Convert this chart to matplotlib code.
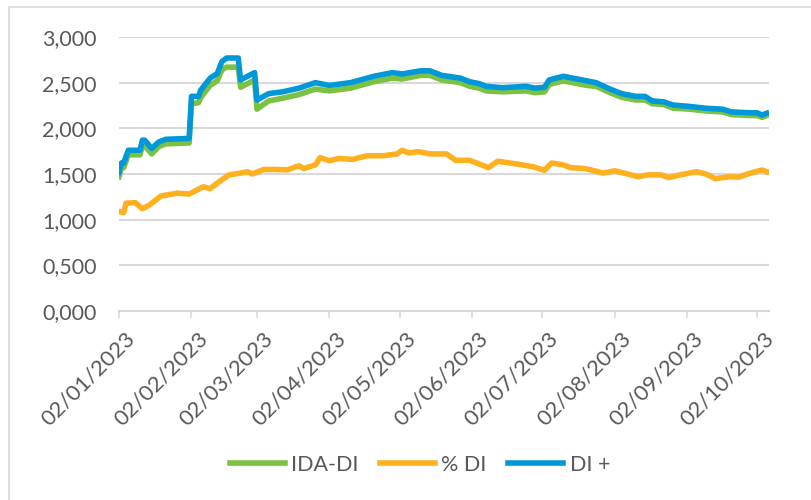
import numpy as np
import pandas as pd
import matplotlib
matplotlib.use('Agg')
import matplotlib.pyplot as plt
import matplotlib.dates as mdates
import matplotlib.transforms as mtransforms
from matplotlib.patches import Rectangle

plt.rcParams['font.family'] = ['Lato', 'DejaVu Sans']

# DI + (blue) and IDA-DI (green)
dates_di = ['2023-01-02', '2023-01-03', '2023-01-04', '2023-01-06', '2023-01-11',
            '2023-01-12', '2023-01-13', '2023-01-16', '2023-01-19', '2023-01-22',
            '2023-02-01', '2023-02-02', '2023-02-05', '2023-02-06', '2023-02-10',
            '2023-02-13', '2023-02-15', '2023-02-17', '2023-02-22', '2023-02-23',
            '2023-03-01', '2023-03-02', '2023-03-07', '2023-03-13', '2023-03-20',
            '2023-03-27', '2023-04-02', '2023-04-11', '2023-04-21', '2023-04-29',
            '2023-05-03', '2023-05-11', '2023-05-15', '2023-05-20', '2023-05-28',
            '2023-06-01', '2023-06-05', '2023-06-08', '2023-06-15', '2023-06-25',
            '2023-06-29', '2023-07-03', '2023-07-05', '2023-07-11', '2023-07-15',
            '2023-07-21', '2023-07-25', '2023-07-31', '2023-08-05', '2023-08-11',
            '2023-08-15', '2023-08-18', '2023-08-23', '2023-08-27', '2023-09-03',
            '2023-09-10', '2023-09-17', '2023-09-21', '2023-09-29', '2023-10-02',
            '2023-10-04', '2023-10-06']
di_plus = [1.52, 1.62, 1.62, 1.76, 1.76, 1.87, 1.87, 1.78, 1.85, 1.88,
           1.89, 2.35, 2.35, 2.42, 2.55, 2.60, 2.73, 2.77, 2.77, 2.53,
           2.61, 2.31, 2.38, 2.40, 2.44, 2.50, 2.47, 2.50, 2.57, 2.61,
           2.595, 2.63, 2.63, 2.58, 2.55, 2.51, 2.49, 2.46, 2.445, 2.46,
           2.44, 2.45, 2.53, 2.57, 2.55, 2.52, 2.50, 2.43, 2.38, 2.35,
           2.35, 2.30, 2.29, 2.255, 2.24, 2.22, 2.21, 2.18, 2.17, 2.17,
           2.145, 2.165]
ida_di = [1.47, 1.57, 1.57, 1.71, 1.71, 1.81, 1.81, 1.72, 1.80, 1.83,
          1.84, 2.27, 2.28, 2.34, 2.47, 2.52, 2.64, 2.67, 2.67, 2.45,
          2.53, 2.21, 2.30, 2.33, 2.37, 2.43, 2.41, 2.44, 2.51, 2.55,
          2.54, 2.58, 2.58, 2.53, 2.50, 2.46, 2.44, 2.41, 2.40, 2.41,
          2.39, 2.40, 2.48, 2.52, 2.50, 2.47, 2.46, 2.39, 2.34, 2.31,
          2.31, 2.27, 2.26, 2.22, 2.21, 2.19, 2.18, 2.15, 2.14, 2.14,
          2.12, 2.14]

# % DI (orange)
dates_pct = ['2023-01-02', '2023-01-04', '2023-01-05', '2023-01-09', '2023-01-12',
             '2023-01-15', '2023-01-20', '2023-01-27', '2023-02-01', '2023-02-07',
             '2023-02-10', '2023-02-13', '2023-02-18', '2023-02-23', '2023-02-26',
             '2023-02-28', '2023-03-05', '2023-03-10', '2023-03-15', '2023-03-20',
             '2023-03-22', '2023-03-27', '2023-03-29', '2023-04-02', '2023-04-06',
             '2023-04-12', '2023-04-18', '2023-04-25', '2023-05-01', '2023-05-03',
             '2023-05-06', '2023-05-10', '2023-05-15', '2023-05-22', '2023-05-26',
             '2023-06-01', '2023-06-05', '2023-06-09', '2023-06-13', '2023-06-21',
             '2023-06-28', '2023-07-03', '2023-07-06', '2023-07-11', '2023-07-14',
             '2023-07-20', '2023-07-23', '2023-07-28', '2023-08-02', '2023-08-06',
             '2023-08-12', '2023-08-16', '2023-08-22', '2023-08-25', '2023-08-30',
             '2023-09-06', '2023-09-10', '2023-09-14', '2023-09-20', '2023-09-24',
             '2023-09-29', '2023-10-04', '2023-10-06']
pct_di = [1.09, 1.076, 1.18, 1.186, 1.12, 1.16, 1.26, 1.29, 1.28, 1.36,
          1.34, 1.40, 1.49, 1.51, 1.525, 1.50, 1.55, 1.55, 1.545, 1.59,
          1.56, 1.60, 1.68, 1.645, 1.67, 1.66, 1.70, 1.70, 1.72, 1.76,
          1.73, 1.745, 1.72, 1.72, 1.65, 1.65, 1.61, 1.57, 1.64, 1.61,
          1.58, 1.54, 1.62, 1.60, 1.57, 1.56, 1.544, 1.51, 1.535, 1.51,
          1.47, 1.49, 1.49, 1.46, 1.49, 1.525, 1.50, 1.45, 1.47, 1.465,
          1.51, 1.544, 1.525]

tick_dates = ['2023-01-02', '2023-02-02', '2023-03-02', '2023-04-02', '2023-05-02',
              '2023-06-02', '2023-07-02', '2023-08-02', '2023-09-02', '2023-10-02']
y_ticks = [0, 0.5, 1.0, 1.5, 2.0, 2.5, 3.0]

green = '#7cc242'
orange = '#ffb01f'
blue = '#0098d8'
txt = '#595959'
grid = '#d9d9d9'

fig = plt.figure(figsize=(8.12, 5.0), dpi=100)
ax = fig.add_axes([119 / 812, 1 - 311 / 500, 650 / 812, 274 / 500])

d_di = pd.to_datetime(dates_di)
d_pct = pd.to_datetime(dates_pct)
lw = 4.0
ax.plot(d_di, ida_di, color=green, lw=lw, label='IDA-DI', solid_joinstyle='round')
ax.plot(d_pct, pct_di, color=orange, lw=lw, label='% DI', solid_joinstyle='round')
ax.plot(d_di, di_plus, color=blue, lw=lw, label='DI +', solid_joinstyle='round')

ax.set_ylim(0, 3)
ax.set_xlim(pd.Timestamp('2023-01-02'), pd.Timestamp('2023-10-07'))
ax.set_yticks(y_ticks)
ax.set_yticklabels([f'{v:.3f}'.replace('.', ',') for v in y_ticks])
ax.yaxis.grid(True, color=grid, lw=1.5)
ax.set_axisbelow(True)
ax.tick_params(axis='y', length=0, pad=16, labelsize=15.5, labelcolor=txt)

ax.set_xticks(pd.to_datetime(tick_dates))
ax.xaxis.set_major_formatter(mdates.DateFormatter('%d/%m/%Y'))
ax.tick_params(axis='x', direction='out', length=5, width=1.2, color=grid,
               labelsize=16, labelcolor=txt, pad=4)
shift = mtransforms.ScaledTranslation(6 / 100, -5 / 100, fig.dpi_scale_trans)
for lab in ax.get_xticklabels():
    lab.set_rotation(45)
    lab.set_ha('right')
    lab.set_va('top')
    lab.set_rotation_mode('anchor')
    lab.set_transform(lab.get_transform() + shift)

for s in ['top', 'right', 'left']:
    ax.spines[s].set_visible(False)
ax.spines['bottom'].set_color(grid)
ax.spines['bottom'].set_linewidth(1.5)

leg = fig.legend(loc='center', bbox_to_anchor=(420 / 812, 1 - 465 / 500), ncol=3,
                 frameon=False, fontsize=15.5, handlelength=2.55, handletextpad=0.3,
                 columnspacing=1.0)
for t in leg.get_texts():
    t.set_color(txt)

# outer chart border
fig.patches.append(Rectangle((9 / 812, -0.1), 1.1, 1.1 - 7.5 / 500, transform=fig.transFigure,
                             fill=False, edgecolor=grid, lw=1.2, clip_on=False))

fig.savefig('out.png', dpi=100)
